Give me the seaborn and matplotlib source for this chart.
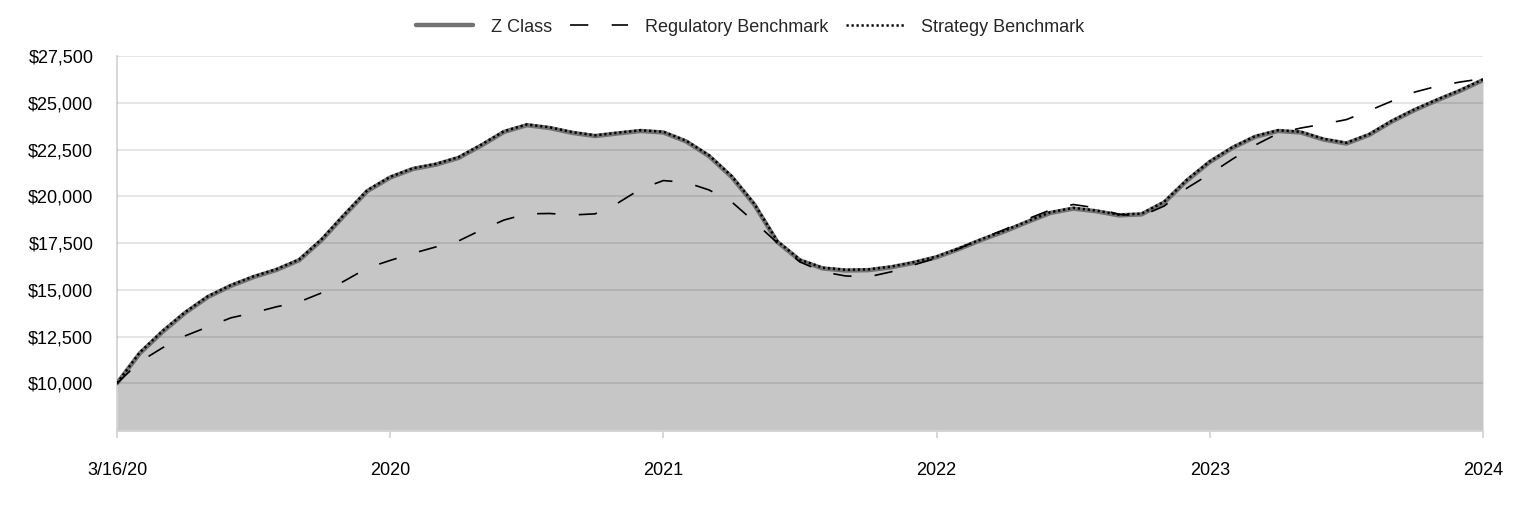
import matplotlib
matplotlib.use("Agg")
import matplotlib.pyplot as plt
import numpy as np
import pandas as pd
import seaborn as sns
from matplotlib.ticker import FuncFormatter

# growth of $10,000 at roughly monthly steps (12 per year)
tick_labels = ["3/16/20", "2020", "2021", "2022", "2023", "2024"]

z_class = [10000, 11600, 12750, 13770, 14620, 15210, 15680, 16060, 16580, 17670,
           19000, 20280, 21000, 21460, 21690, 22050, 22710, 23440, 23800, 23650,
           23390, 23220, 23360, 23490, 23410, 22930, 22150, 21030, 19540, 17560,
           16570, 16140, 16030, 16050, 16200, 16440, 16740, 17190, 17680, 18130,
           18630, 19110, 19340, 19200, 18980, 19030, 19670, 20840, 21830, 22590,
           23180, 23490, 23410, 23030, 22820, 23280, 24000, 24610, 25140, 25640,
           26210]

regulatory = [10000, 11150, 11900, 12540, 13020, 13500, 13770, 14090, 14350, 14840,
              15480, 16170, 16570, 16950, 17290, 17610, 18200, 18730, 19060, 19080,
              19000, 19060, 19640, 20390, 20840, 20740, 20340, 19700, 18630, 17510,
              16490, 15960, 15740, 15690, 15960, 16330, 16700, 17210, 17750, 18230,
              18790, 19270, 19560, 19380, 19030, 18950, 19480, 20440, 21190, 21990,
              22740, 23360, 23650, 23860, 24100, 24580, 25090, 25570, 25890, 26110,
              26290]

strategy = [10000, 11650, 12800, 13810, 14660, 15250, 15720, 16100, 16620, 17720,
            19050, 20330, 21040, 21500, 21730, 22090, 22760, 23480, 23840, 23690,
            23430, 23260, 23400, 23530, 23450, 22970, 22200, 21080, 19590, 17610,
            16610, 16180, 16070, 16090, 16240, 16480, 16780, 17230, 17720, 18170,
            18670, 19150, 19380, 19240, 19020, 19070, 19710, 20890, 21870, 22630,
            23220, 23530, 23450, 23070, 22860, 23320, 24040, 24650, 25180, 25680,
            26250]


def main():
    sns.set_style("white")
    plt.rcParams["font.family"] = ["Liberation Sans", "DejaVu Sans"]

    df = pd.DataFrame({"period": np.arange(len(z_class)),
                       "Z Class": z_class,
                       "Regulatory Benchmark": regulatory,
                       "Strategy Benchmark": strategy})

    fig = plt.figure(figsize=(15.24, 5.16), dpi=100)
    ax = fig.add_axes([117 / 1524, 1 - 431 / 516, (1483 - 117) / 1524, (431 - 56) / 516])

    ymin = 7450
    ax.fill_between(df["period"], df["Z Class"], ymin, color="#c6c6c6", lw=0, zorder=1)

    sns.lineplot(data=df, x="period", y="Z Class", ax=ax, color="#727272", lw=3.2,
                 label="Z Class", zorder=3)
    sns.lineplot(data=df, x="period", y="Regulatory Benchmark", ax=ax, color="black",
                 lw=1.2, linestyle=(0, (11, 14)), label="Regulatory Benchmark", zorder=4)
    sns.lineplot(data=df, x="period", y="Strategy Benchmark", ax=ax, color="black",
                 lw=1.8, linestyle=(0, (0.9, 1.1)), label="Strategy Benchmark", zorder=5)

    ax.set_xlim(0, len(z_class) - 1)
    ax.set_ylim(ymin, 27500)
    ax.set_xticks(np.arange(0, len(z_class), 12))
    ax.set_xticklabels(tick_labels)
    ax.set_yticks(np.arange(10000, 27501, 2500))
    ax.yaxis.set_major_formatter(FuncFormatter(lambda v, p: f"${v:,.0f}"))
    ax.set_xlabel("")
    ax.set_ylabel("")

    ax.set_axisbelow(False)
    ax.yaxis.grid(True, color="black", alpha=0.11, lw=1.3)
    ax.xaxis.grid(False)

    for side in ["top", "right"]:
        ax.spines[side].set_visible(False)
    for side in ["left", "bottom"]:
        ax.spines[side].set_color("#d4d4d4")
        ax.spines[side].set_linewidth(1.3)

    ax.tick_params(axis="x", length=5, width=1.3, color="#d4d4d4", pad=17,
                   labelsize=13, labelcolor="black", bottom=True)
    ax.tick_params(axis="y", length=0, pad=17, labelsize=13, labelcolor="black")

    handles, labels = ax.get_legend_handles_labels()
    ax.get_legend().remove()
    fig.legend(handles, labels, loc="center", bbox_to_anchor=(750 / 1524, 1 - 27 / 516),
               ncol=3, frameon=False, fontsize=13, handlelength=3.2,
               handletextpad=0.95, columnspacing=1.0)

    fig.savefig("out.png", dpi=100)


if __name__ == "__main__":
    main()
